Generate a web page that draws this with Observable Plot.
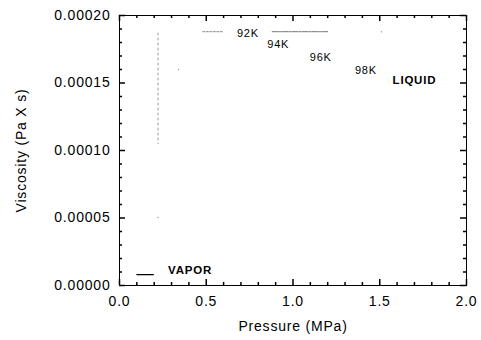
<!DOCTYPE html>
<html>
<head>
<meta charset="utf-8">
<script src="https://cdn.jsdelivr.net/npm/d3@7"></script>
<script src="https://cdn.jsdelivr.net/npm/@observablehq/plot@0.6"></script>
</head>
<body style="margin:0;padding:0;background:#fff">
<div id="chart"></div>
<script>
// Axis ticks
const xMajor = [0, 0.5, 1.0, 1.5, 2.0];
const xMinor = [0.1, 0.2, 0.3, 0.4, 0.6, 0.7, 0.8, 0.9, 1.1, 1.2, 1.3, 1.4, 1.6, 1.7, 1.8, 1.9];
const yMajor = [0, 0.00005, 0.00010, 0.00015, 0.00020];
const yMinor = [0.00001, 0.00002, 0.00003, 0.00004, 0.00006, 0.00007, 0.00008, 0.00009,
                0.00011, 0.00012, 0.00013, 0.00014, 0.00016, 0.00017, 0.00018, 0.00019];

// Faint (barely printed) saturation trace near 0.22 MPa
const satP = [0.222, 0.222];
const satV = [0.000187, 0.000105];
// Faint isolated points
const dotP = [0.222, 0.34, 1.51];
const dotV = [0.0000504, 0.000160, 0.000188];
// Faint isotherm traces at the top
const iso92P = [0.48, 0.60];
const iso92V = [0.000188, 0.000188];
const iso94P = [0.88, 1.20];
const iso94V = [0.000188, 0.000188];
// Vapor segment
const vapP = [0.10, 0.195];
const vapV = [0.0000081, 0.0000081];

// Annotations
const labelText = ["92K", "94K", "96K", "98K"];
const labelP = [0.74, 0.915, 1.16, 1.42];
const labelV = [0.0001867, 0.0001785, 0.000169, 0.000159];
const boldText = ["LIQUID", "VAPOR"];
const boldP = [1.70, 0.407];
const boldV = [0.000152, 0.0000111];

const pts = (xs, ys) => xs.map((x, i) => ({x, y: ys[i]}));
const fmtY = d3.format(".5f");
const fmtX = d3.format(".1f");

const W = 481, H = 340, ML = 119, MR = 15, MT = 15, MB = 55;
const PW = W - ML - MR, PH = H - MT - MB;
const major = 6, minor = 3;
const tk = {stroke: "black", strokeWidth: 1.5};

const chart = Plot.plot({
  width: W,
  height: H,
  marginLeft: ML,
  marginRight: MR,
  marginTop: MT,
  marginBottom: MB,
  style: {fontFamily: "'Liberation Sans', Arial, Helvetica, sans-serif", fontSize: "14px", letterSpacing: "0.8px"},
  x: {domain: [0, 2]},
  y: {domain: [0, 0.0002]},
  marks: [
    Plot.frame({stroke: "black"}),
    // inward ticks: bottom & top
    Plot.tickX(xMajor, {x: d => d, insetTop: PH - major, ...tk}),
    Plot.tickX(xMinor, {x: d => d, insetTop: PH - minor, ...tk}),
    Plot.tickX(xMajor, {x: d => d, insetBottom: PH - major, ...tk}),
    Plot.tickX(xMinor, {x: d => d, insetBottom: PH - minor, ...tk}),
    // left & right
    Plot.tickY(yMajor, {y: d => d, insetRight: PW - major, ...tk}),
    Plot.tickY(yMinor, {y: d => d, insetRight: PW - minor, ...tk}),
    Plot.tickY(yMajor, {y: d => d, insetLeft: PW - major, ...tk}),
    Plot.tickY(yMinor, {y: d => d, insetLeft: PW - minor, ...tk}),
    // labels
    Plot.axisX(xMajor, {anchor: "bottom", tickSize: 0, tickPadding: 11, tickFormat: fmtX,
      label: "Pressure (MPa)", labelAnchor: "center", labelArrow: "none", labelOffset: 45}),
    Plot.axisY(yMajor, {anchor: "left", tickSize: 0, tickPadding: 9, tickFormat: fmtY,
      label: "Viscosity (Pa X s)", labelAnchor: "center", labelArrow: "none", labelOffset: 103}),

    // faint traces
    Plot.line(pts(satP, satV), {x: "x", y: "y", stroke: "#999", strokeWidth: 1, strokeDasharray: "2,3"}),
    Plot.line(pts(iso92P, iso92V), {x: "x", y: "y", stroke: "#888", strokeWidth: 1, strokeDasharray: "2,1.5"}),
    Plot.line(pts(iso94P, iso94V), {x: "x", y: "y", stroke: "#777", strokeWidth: 1, strokeDasharray: "6,1,2,1"}),
    Plot.dot(pts(dotP, dotV), {x: "x", y: "y", r: 0.7, fill: "#999", stroke: null}),
    Plot.line(pts(vapP, vapV), {x: "x", y: "y", stroke: "black", strokeWidth: 1.3}),

    // annotations
    Plot.text(labelText.map((t, i) => ({t, x: labelP[i], y: labelV[i]})),
      {x: "x", y: "y", text: "t", fontSize: 11, fill: "black"}),
    Plot.text(boldText.map((t, i) => ({t, x: boldP[i], y: boldV[i]})),
      {x: "x", y: "y", text: "t", fontSize: 11.5, fontWeight: "bold", fill: "black"})
  ]
});
document.getElementById("chart").appendChild(chart);
</script>
</body>
</html>
